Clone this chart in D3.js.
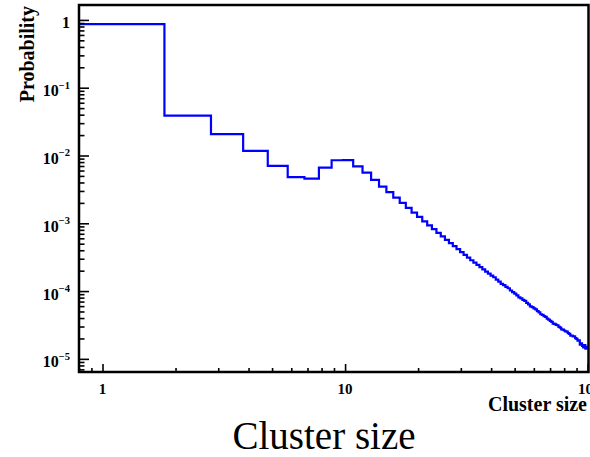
<!DOCTYPE html>
<html>
<head>
<meta charset="utf-8">
<script src="https://cdn.jsdelivr.net/npm/d3@7"></script>
<style>
  html, body { margin: 0; padding: 0; background: #fff; }
  svg { display: block; }
  .lbl { font-family: "Liberation Serif", "Times New Roman", serif; font-weight: bold; fill: #000; }
</style>
</head>
<body>
<svg id="chart" width="590" height="457"></svg>
<script>
// Cluster-size distribution: one bin per integer size, bin n spans [n - 0.2, n + 0.8)
const clusterSizes = d3.range(1, 101);
const binShift = 0.2;

const probability = [
  0.864, 0.0388, 0.0206, 0.0117, 0.00703, 0.00479, 0.00457, 0.00664, 0.00851, 0.00855,
  0.0069, 0.0056, 0.00437, 0.00348, 0.00288, 2.39e-3, 2.00e-3, 1.69e-3, 1.44e-3, 1.24e-3,
  1.07e-3, 9.33e-4, 8.18e-4, 7.21e-4, 6.40e-4, 5.71e-4, 5.11e-4, 4.60e-4, 4.15e-4, 3.76e-4,
  3.42e-4, 3.11e-4, 2.85e-4, 2.63e-4, 2.43e-4, 2.25e-4, 2.09e-4, 1.94e-4, 1.81e-4, 1.69e-4,
  1.60e-4, 1.48e-4, 1.38e-4, 1.28e-4, 1.22e-4, 1.15e-4, 1.10e-4, 1.02e-4, 9.66e-5, 9.14e-5,
  8.66e-5, 8.05e-5, 7.79e-5, 7.40e-5, 7.15e-5, 6.70e-5, 6.38e-5, 5.95e-5, 5.80e-5, 5.54e-5,
  5.38e-5, 5.07e-5, 4.85e-5, 4.55e-5, 4.45e-5, 4.27e-5, 4.15e-5, 3.93e-5, 3.78e-5, 3.63e-5,
  3.51e-5, 3.32e-5, 3.28e-5, 3.17e-5, 3.13e-5, 2.97e-5, 2.88e-5, 2.72e-5, 2.70e-5, 2.62e-5,
  2.54e-5, 2.52e-5, 2.40e-5, 2.33e-5, 2.20e-5, 2.20e-5, 2.14e-5, 2.14e-5, 2.02e-5, 1.97e-5,
  1.86e-5, 1.87e-5, 1.62e-5, 1.70e-5, 1.55e-5, 1.48e-5, 1.60e-5, 1.42e-5, 1.50e-5, 1.45e-5
];

// Axis ranges and labelled decades
const xDomain = [0.8, 100.8];
const yDomain = [6.4e-6, 1.66];
const xMajorTicks = [1, 10, 100];
const xMajorLabels = ["1", "10", "10\u00B2"];
const yMajorExponents = [0, -1, -2, -3, -4, -5];

const svg = d3.select("#chart");
const plot = { left: 79, right: 588.5, top: 5, bottom: 372 };

const x = d3.scaleLog().domain(xDomain).range([plot.left, plot.right]);
const y = d3.scaleLog().domain(yDomain).range([plot.bottom, plot.top]);

// Minor / major tick values inside each domain
function logTicks(domain) {
  const out = [];
  for (let e = -7; e <= 3; e++) {
    for (let k = 1; k <= 9; k++) {
      const v = k * Math.pow(10, e);
      if (v >= domain[0] && v <= domain[1]) out.push(v);
    }
  }
  return out;
}
const isMajor = v => Math.abs(Math.log10(v) - Math.round(Math.log10(v))) < 1e-9;
const xTicksAll = logTicks(xDomain);
const yTicksAll = logTicks(yDomain);

// Histogram outline
const stepPts = clusterSizes.map((n, i) => [n - binShift, probability[i]]);
const last = clusterSizes.length - 1;
stepPts.push([clusterSizes[last] + 1 - binShift, probability[last]]);

svg.append("defs").append("clipPath").attr("id", "plotClip")
  .append("rect")
  .attr("x", plot.left).attr("y", plot.top)
  .attr("width", plot.right - plot.left).attr("height", plot.bottom - plot.top);

svg.append("path")
  .datum(stepPts)
  .attr("clip-path", "url(#plotClip)")
  .attr("fill", "none")
  .attr("stroke", "#0000ff")
  .attr("stroke-width", 2.2)
  .attr("stroke-linejoin", "miter")
  .attr("d", d3.line().x(d => x(d[0])).y(d => y(d[1])).curve(d3.curveStepAfter));

// Inward ticks, drawn with d3 axes (minor and major separately)
function styleAxis(g) {
  g.select(".domain").remove();
  g.selectAll(".tick line").attr("stroke", "#000").attr("stroke-width", 1.6);
  g.selectAll(".tick text").remove();
}
svg.append("g").attr("transform", `translate(${plot.left},0)`)
  .call(d3.axisLeft(y).tickValues(yTicksAll.filter(v => !isMajor(v))).tickSize(-5.5).tickFormat(""))
  .call(styleAxis);
svg.append("g").attr("transform", `translate(${plot.left},0)`)
  .call(d3.axisLeft(y).tickValues(yTicksAll.filter(isMajor)).tickSize(-10).tickFormat(""))
  .call(styleAxis);
svg.append("g").attr("transform", `translate(0,${plot.bottom})`)
  .call(d3.axisBottom(x).tickValues(xTicksAll.filter(v => !isMajor(v))).tickSize(-4).tickFormat(""))
  .call(styleAxis);
svg.append("g").attr("transform", `translate(0,${plot.bottom})`)
  .call(d3.axisBottom(x).tickValues(xTicksAll.filter(isMajor)).tickSize(-8).tickFormat(""))
  .call(styleAxis);

// Frame
svg.append("rect")
  .attr("x", plot.left).attr("y", plot.top)
  .attr("width", plot.right - plot.left).attr("height", plot.bottom - plot.top)
  .attr("fill", "none").attr("stroke", "#000").attr("stroke-width", 2.5);

// Y tick labels (powers of ten)
yMajorExponents.forEach(e => {
  const t = svg.append("text").attr("class", "lbl")
    .attr("x", 70).attr("y", y(Math.pow(10, e)) + 8.5)
    .attr("text-anchor", "end").attr("font-size", 16);
  if (e === 0) {
    t.text("1");
  } else {
    t.append("tspan").text("10");
    t.append("tspan").attr("font-size", 10.5).attr("dy", -7.5).text("\u2212" + (-e));
  }
});

// X tick labels
xMajorTicks.forEach((v, i) => {
  svg.append("text").attr("class", "lbl")
    .attr("x", x(v)).attr("y", 394)
    .attr("text-anchor", "middle").attr("font-size", 15)
    .text(xMajorLabels[i]);
});

// Axis titles
svg.append("text").attr("class", "lbl")
  .attr("x", 587).attr("y", 411)
  .attr("text-anchor", "end").attr("font-size", 20)
  .text("Cluster size");

svg.append("text").attr("class", "lbl")
  .attr("transform", "translate(34,6) rotate(-90)")
  .attr("text-anchor", "end").attr("font-size", 20)
  .text("Probability");

// Caption below the chart
svg.append("text")
  .attr("x", 324).attr("y", 449)
  .attr("text-anchor", "middle")
  .attr("font-family", "'Liberation Serif', 'Times New Roman', serif")
  .attr("font-size", 39)
  .attr("fill", "#000")
  .text("Cluster size");
</script>
</body>
</html>
